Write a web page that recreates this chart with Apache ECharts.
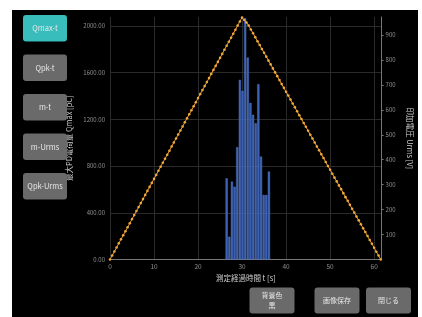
<!DOCTYPE html>
<html><head><meta charset="utf-8">
<script src="https://cdn.jsdelivr.net/npm/echarts@6/dist/echarts.min.js"></script>
<style>
html,body{margin:0;padding:0;background:#fff;}
#wrap{position:relative;width:422px;height:317px;background:#fff;}
#panel{position:absolute;left:12px;top:10px;width:406px;height:307px;background:#000;}
#chart{position:absolute;left:0;top:0;width:422px;height:317px;}
</style></head>
<body><div id="wrap"><div id="panel"></div><div id="chart"></div></div>
<script>
// Qmax histogram: time [s] and Qmax [pC]
const barTimes = [26.5, 27.1, 27.7, 28.3, 28.9, 29.5, 30.1, 30.7, 31.3, 31.9, 32.5, 33.1, 33.7, 34.3, 34.9, 35.5, 36.1];
const barQmax  = [695, 195, 666, 623, 961, 1537, 1443, 2066, 1728, 1340, 1238, 1166, 1500, 880, 552, 552, 752];
// applied voltage Urms [V] sampled every 0.5 s
const voltTimes = [0,0.5,1,1.5,2,2.5,3,3.5,4,4.5,5,5.5,6,6.5,7,7.5,8,8.5,9,9.5,10,10.5,11,11.5,12,12.5,13,13.5,14,14.5,15,15.5,16,16.5,17,17.5,18,18.5,19,19.5,20,20.5,21,21.5,22,22.5,23,23.5,24,24.5,25,25.5,26,26.5,27,27.5,28,28.5,29,29.5,30,30.5,31,31.5,32,32.5,33,33.5,34,34.5,35,35.5,36,36.5,37,37.5,38,38.5,39,39.5,40,40.5,41,41.5,42,42.5,43,43.5,44,44.5,45,45.5,46,46.5,47,47.5,48,48.5,49,49.5,50,50.5,51,51.5,52,52.5,53,53.5,54,54.5,55,55.5,56,56.5,57,57.5,58,58.5,59,59.5,60,60.5,61,61.5];
const voltUrms = [0,16,32,48,65,81,97,113,129,145,162,178,194,210,226,242,259,275,291,307,323,339,356,372,388,404,420,436,453,469,485,501,517,533,550,566,582,598,614,630,647,663,679,695,711,727,744,760,776,792,808,824,841,857,873,889,905,921,938,954,970,960,950,938,922,907,891,875,860,844,829,813,797,782,766,750,735,719,703,688,672,657,641,625,610,594,578,563,547,532,516,500,485,469,453,438,422,407,391,375,360,344,328,313,297,282,266,250,235,219,203,188,172,157,141,125,110,94,78,63,47,31,16,0];
const xTicks = [0,10,20,30,40,50,60];
const sideButtons = ["Qmax-t","Qpk-t","m-t","m-Urms","Qpk-Urms"];
const bottomButtons = ["背景色\n黒","画像保存","閉じる"];

const FONT = '"Noto Sans CJK JP","Noto Sans",sans-serif';
const chart = echarts.init(document.getElementById('chart'), null, {renderer:'canvas'});

const graphics = [];
sideButtons.forEach((t,i)=>{
  const top = 15+i*39.5;
  graphics.push({type:'rect', x:23, y:top, shape:{width:44,height:26.5,r:3},
    style:{fill: i===0 ? '#38bcbc' : '#6a6a6a'}, z:10});
  graphics.push({type:'text', x:45, y:top+13.25, z:11,
    style:{text:t, align:'center', verticalAlign:'middle', fill:'#e6e6e6', font:'7.5px '+FONT}});
});
const bx = [249.5, 314.5, 366];
bottomButtons.forEach((t,i)=>{
  graphics.push({type:'rect', x:bx[i], y:287.5, shape:{width:45,height:26,r:3},
    style:{fill:'#6a6a6a'}, z:10});
  graphics.push({type:'text', x:bx[i]+22.5, y:300.5, z:11,
    style:{text:t, align:'center', verticalAlign:'middle', fill:'#e6e6e6', font:'7px '+FONT, lineHeight:10}});
});

const gridColors = ['#2a2a2a','#2a2a2a','#2a2a2a','#2a2a2a','#2a2a2a','#2a2a2a','rgba(0,0,0,0)'];

chart.setOption({
  backgroundColor:'transparent',
  animation:false,
  textStyle:{fontFamily:FONT},
  grid:{left:110, right:39.5, top:17, bottom:57.5},
  xAxis:{type:'value', min:0, max:61.7, interval:10,
    name:'測定経過時間 t [s]', nameLocation:'middle', nameGap:12,
    nameTextStyle:{color:'#d0d0d0', fontSize:7.5, fontFamily:FONT},
    axisLine:{show:true, lineStyle:{color:'#777', width:1}},
    axisTick:{show:false},
    axisLabel:{color:'#8f8f8f', fontSize:6.5, margin:4, showMaxLabel:false,
      formatter:v=> xTicks.includes(v) ? String(v) : ''},
    splitLine:{show:true, lineStyle:{color:'#2a2a2a', width:1}}
  },
  yAxis:[
    {type:'value', min:0, max:2075, interval:400, position:'left',
      name:'最大PD電荷量 Qmax [pC]', nameLocation:'middle', nameGap:25, nameRotate:90,
      nameTextStyle:{color:'#d0d0d0', fontSize:7.5, fontFamily:FONT},
      axisLine:{show:false}, axisTick:{show:false},
      axisLabel:{color:'#8f8f8f', fontSize:6, margin:5, showMaxLabel:false,
        formatter:v=> (v%400===0) ? v.toFixed(2) : ''},
      splitLine:{show:true, lineStyle:{color:gridColors, width:1}}
    },
    {type:'value', min:0, max:972, interval:100, position:'right',
      name:'印加電圧 Urms [V]', nameLocation:'middle', nameGap:21, nameRotate:-90,
      nameTextStyle:{color:'#d0d0d0', fontSize:7.5, fontFamily:FONT},
      axisLine:{show:true, lineStyle:{color:'#777', width:1}},
      axisTick:{show:true, length:2, lineStyle:{color:'#777'}},
      axisLabel:{color:'#8f8f8f', fontSize:6, margin:4, showMinLabel:false, showMaxLabel:false,
        formatter:v=> (v%100===0) ? String(v) : ''},
      splitLine:{show:false}
    }
  ],
  series:[
    {type:'bar', yAxisIndex:0, barWidth:2.2,
      data: barTimes.map((t,i)=>[t, barQmax[i]]),
      itemStyle:{color:'#3a5fb2', borderColor:'#5a80d0', borderWidth:0.4}
    },
    {type:'line', yAxisIndex:1,
      data: voltTimes.map((t,i)=>[t, voltUrms[i]]),
      symbol:'circle', symbolSize:2.6, showSymbol:true,
      lineStyle:{color:'#e89a2c', width:1},
      itemStyle:{color:'#f2a83a'}, z:5
    }
  ],
  graphic: graphics
});
</script></body></html>
